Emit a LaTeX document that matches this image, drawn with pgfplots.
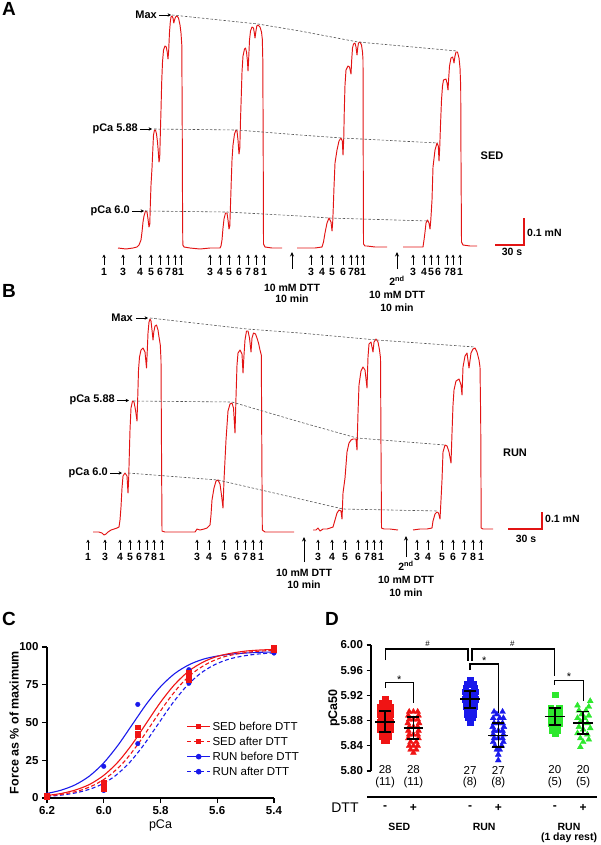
\documentclass[border=0pt]{standalone}
\usepackage{fontspec}
\setmainfont{Liberation Sans}
\usepackage{pgfplots}
\pgfplotsset{compat=1.18}
\usetikzlibrary{arrows.meta}
\definecolor{trace}{RGB}{226,20,20}
\definecolor{myred}{RGB}{240,20,20}
\definecolor{myblue}{RGB}{25,25,235}
\definecolor{mygreen}{RGB}{45,232,45}
\definecolor{dgray}{RGB}{85,85,85}
\tikzset{lbl/.style={font=\fontsize{10.5}{12}\selectfont\bfseries, inner sep=0pt},
  big/.style={font=\fontsize{19}{21}\selectfont\bfseries, inner sep=0pt, anchor=north west},
  upar/.style={line width=0.75pt, -{Stealth[length=3.4pt,width=3.4pt]}},
  longar/.style={line width=0.8pt, -{Stealth[length=4.5pt,width=4pt]}}}
\pgfplotsset{trc/.style={trace, line width=0.95pt, line join=round},
  dsh/.style={dgray, line width=0.6pt, dash pattern=on 2.5pt off 1.8pt},
  sbar/.style={trace, line width=1.1pt},
  msd/.style={black, line width=1.4pt, unbounded coords=jump, forget plot}}
\begin{document}
\begin{tikzpicture}
\useasboundingbox (0,0) rectangle (601pt,-845pt);
% ---------------- canvas axis for traces A and B (x: px, y: px from top)
\begin{axis}[at={(0pt,0pt)}, anchor=north west, scale only axis, width=601pt, height=845pt,
  xmin=0, xmax=601, ymin=0, ymax=845, y dir=reverse, hide axis, clip=false]
% ---- Panel A traces
\addplot[trc] coordinates {(118,248) (126,249) (133,248) (137,247) (139,245) (141,240) (142,232) (143,222) (144,216) (145.5,211) (147,212) (148,219) (149,227) (149.8,224) (150.3,205) (151,185) (152,168) (152.8,150) (153.5,135) (154.5,130) (155.5,130) (156.5,134) (157.5,142) (158.3,152) (159,162) (159.7,158) (160.3,135) (161,110) (161.7,82) (162.5,62) (163.5,50) (165,46) (166.3,47) (167.2,52) (168,59) (168.7,50) (169.5,32) (170.3,22) (171,17) (172,16) (173,18) (173.8,23) (174.5,20) (175.5,17) (177,16) (178.5,18) (180,25) (181,33) (181.8,45) (182.2,120) (182.5,200) (182.8,245) (184,247) (190,248) (200,249) (210,248) (220,248)
 (221,246) (222,240) (223,228) (224,219) (225.5,213) (227,213) (228,220) (229,229) (229.8,226) (230.5,205) (231.3,180) (232,160) (233,145) (234.5,134) (236,130) (237,131) (238,140) (239,154) (239.8,148) (240.5,120) (241.3,95) (242,72) (243,56) (244.5,49) (245.5,48) (246.5,52) (247.5,62) (248,71) (248.7,58) (249.5,40) (250.5,31) (252,27) (253.5,28) (254.5,34) (255,38) (255.8,32) (256.8,26) (258,25) (260,27) (261.5,32) (262.3,39) (262.8,60) (263.2,150) (263.5,244) (265,247) (272,248) (282,248)};
\addplot[trc] coordinates {(297,248) (305,248) (315,248) (322,247) (323.5,242) (325,233) (327,223) (329,218) (331,222) (332,231) (332.7,222) (333.3,207) (334,187) (335,163) (337,150) (339,141) (341,138) (342.3,141) (343,155) (343.7,140) (344.3,110) (345,85) (346,70) (348,66) (349.5,67) (351,74) (351.7,60) (352.5,48) (353.5,44) (355,43) (356,47) (357,55) (357.7,48) (358.5,43) (360,42) (361.5,45) (362.5,52) (363,60) (363.2,150) (363.5,244) (365,246) (367,246) (375,247) (387,247)};
\addplot[trc] coordinates {(403,247) (413,247) (423,247) (424,240) (425,232) (426,223) (427.5,220) (429,223) (430,229) (430.8,220) (432,200) (433,167) (435,150) (437,143) (438.3,146) (439,161) (439.7,148) (440.5,125) (441.5,100) (442.5,86) (443.5,80) (446,79) (447,83) (448,90) (448.7,78) (449.5,66) (451,58) (452.5,57) (453.5,60) (454,63) (455,56) (456,52) (457.5,52) (459,58) (460,68) (460.7,87) (461,160) (461.5,242) (463,245) (470,246) (477,246)};
% dashed guides A
\addplot[dsh] coordinates {(172,15) (258,24) (300,31) (358,42) (457,51)};
\addplot[dsh] coordinates {(154,129) (237,130) (300,135) (342,138) (438,143)};
\addplot[dsh] coordinates {(145,211) (227,212) (300,216) (329,218) (428,221)};
% scale bar A
\addplot[sbar] coordinates {(495,245) (524,245) (524,218)};
% ---- Panel B traces
\addplot[trc] coordinates {(93,532) (99,532) (102,533) (104,535) (106,534) (108,532) (111,530) (114,529) (117,528) (119,527) (120,520) (121,507) (122,488) (123,476) (125,473) (127,476) (128,493) (128.7,478) (129.3,455) (130,430) (131,408) (132.5,401) (134,402) (135.5,410) (137,421) (137.8,395) (138.5,370) (139.5,357) (141,350) (143,348) (145,352) (146.5,368) (147.3,350) (148,333) (149,322) (150,319) (151,321) (152,330) (153,340) (153.8,332) (155,326) (156.5,325) (158,330) (159,337) (160.3,345) (161,360) (161.5,450) (162,531) (165,532) (180,532) (195,532) (197,529) (200,530) (204,529) (207,528) (210,525) (211,515) (212,500) (214,488) (216,481) (218,480) (220,484) (221.5,495) (223,508) (224,480) (225,460) (226,440) (228,411) (230,404) (232,403) (233.5,408) (235,433) (236,397) (237,365) (238,353) (240,350) (242,354) (243,373) (244,355) (245,340) (246.5,331) (248,331) (249.5,338) (251,352) (252,338) (253.5,333) (255.5,334) (257,338) (258.5,343) (260,350) (261.3,355) (261.8,450) (262.3,530) (265,532) (280,532) (294,532)};
\addplot[trc] coordinates {(313,530) (316,530) (318,528) (320,531) (323,529) (327,529) (330,528) (333,527) (335,520) (337,513) (339,510) (341,511) (342,519) (343,493) (345,478) (347,452) (349,443) (351,440) (353,439) (356,439) (357,450) (358,413) (359,385) (361,371) (363,367) (365,370) (367,388) (368,357) (369,344) (371,342) (373,352) (374,342) (376,339) (378,342) (379.5,350) (380.5,358) (381,450) (381.5,528) (384,529) (390,529) (398,530)};
\addplot[trc] coordinates {(413,530) (420,529) (427,529) (432,528) (433,521) (435,514) (437,512) (438.5,513) (440,519) (441,500) (442,480) (443,452) (445,445) (447,446) (449,452) (451,463) (452,433) (453,405) (454,390) (456,381) (459,379) (461,385) (462,395) (463,367) (465,356) (467,353) (469,368) (471,353) (473,349) (475,348) (477,352) (479,360) (480,367) (480.7,420) (481.2,528) (483,529) (493,529)};
% dashed guides B
\addplot[dsh] coordinates {(150,318) (247,329) (300,333) (377,340) (475,347)};
\addplot[dsh] coordinates {(133,401) (232,402) (300,422) (357,438) (445,445)};
\addplot[dsh] coordinates {(128,473) (218,480) (300,499) (343,509) (438,511)};
% scale bar B
\addplot[sbar] coordinates {(508,529) (542,529) (542,512)};
\end{axis}

% ---------------- annotations for A and B (1 unit = 1 px)
\begin{scope}[x=1pt,y=-1pt]
\node[big] at (2,2) {A};
\node[big] at (2,284) {B};
\node[big] at (2,612) {C};
\node[big] at (325,612) {D};
% A labels
\node[lbl,font=\fontsize{11}{13}\selectfont\bfseries,anchor=east] at (157,14.5) {Max};
\draw[upar] (159,15) -- (171,15);
\node[lbl,font=\fontsize{11}{13}\selectfont\bfseries,anchor=east] at (138,128.5) {pCa 5.88};
\draw[upar] (140,129) -- (152,129);
\node[lbl,font=\fontsize{11}{13}\selectfont\bfseries,anchor=east] at (130,210.5) {pCa 6.0};
\draw[upar] (132,211) -- (144,211);
\node[lbl,font=\fontsize{11}{13}\selectfont\bfseries] at (492,156) {SED};
\node[lbl,anchor=west] at (527,233) {0.1 mN};
\node[lbl] at (512,252) {30 s};
\foreach \x/\l in {104/1,123/3,140/4,151/5,160/6,168/7,175/8,181/1,210/3,220/4,229/5,239/6,248/7,256/8,264/1,311/3,322/4,332/5,343/6,351/7,357/8,363/1,413/3,424/4,431/5,438/6,447/7,453/8,460/1}{
  \draw[upar] (\x,264.5) -- (\x,254.5);
  \node[lbl] at (\x,271.5) {\l};
}
\draw[longar] (292,269) -- (292,252);
\node[lbl] at (292,287.5) {10 mM DTT};
\node[lbl] at (292,299) {10 min};
\draw[longar] (397,269) -- (397,252);
\node[lbl] at (397,281) {2\textsuperscript{nd}};
\node[lbl] at (397,295) {10 mM DTT};
\node[lbl] at (397,307.5) {10 min};
% B labels
\node[lbl,font=\fontsize{11}{13}\selectfont\bfseries,anchor=east] at (133,317.5) {Max};
\draw[upar] (136,318) -- (148,318);
\node[lbl,font=\fontsize{11}{13}\selectfont\bfseries,anchor=east] at (115,400) {pCa 5.88};
\draw[upar] (117,400.5) -- (129,400.5);
\node[lbl,font=\fontsize{11}{13}\selectfont\bfseries,anchor=east] at (108,472.5) {pCa 6.0};
\draw[upar] (110,473) -- (122,473);
\node[lbl,font=\fontsize{11}{13}\selectfont\bfseries] at (515,453) {RUN};
\node[lbl,anchor=west] at (545,519) {0.1 mN};
\node[lbl] at (526,539) {30 s};
\foreach \x/\l in {88/1,105/3,120/4,130/5,139/6,147/7,154/8,162/1,197/3,209/4,224/5,237/6,245/7,253/8,261/1,318/3,332/4,345/5,358/6,367/7,374/8,381/1,417/3,428/4,442/5,453/6,464/7,473/8,481/1}{
  \draw[upar] (\x,549.5) -- (\x,539.5);
  \node[lbl] at (\x,557) {\l};
}
\draw[longar] (304,562) -- (304,537);
\node[lbl] at (304,573) {10 mM DTT};
\node[lbl] at (304,585) {10 min};
\draw[longar] (406,557) -- (406,536);
\node[lbl] at (406,566) {2\textsuperscript{nd}};
\node[lbl] at (406,580) {10 mM DTT};
\node[lbl] at (406,593) {10 min};
% D y label
\node[rotate=90, font=\fontsize{12.5}{14}\selectfont\bfseries, inner sep=0pt] at (334,708) {pCa50};
\end{scope}

% ---------------- Panel C
\begin{axis}[at={(47pt,-798pt)}, anchor=south west, scale only axis, width=227pt, height=151pt,
  xmin=5.4, xmax=6.2, ymin=0, ymax=100, x dir=reverse,
  axis x line*=bottom, axis y line*=left, axis line style={-, line width=1.2pt},
  tick align=outside, major tick length=5pt, every tick/.style={line width=1.2pt, black},
  xtick={5.4,5.6,5.8,6.0,6.2}, xticklabels={5.4,5.6,5.8,6.0,6.2},
  ytick={0,25,50,75,100},
  /pgf/number format/assume math mode=true,
  ticklabel style={font=\fontsize{11.5}{13}\selectfont\bfseries},
  xlabel={pCa}, ylabel={Force as \% of maximum},
  xlabel style={at={(axis description cs:0.5,-0.18)}, anchor=center, font=\fontsize{12.5}{14}\selectfont},
  ylabel style={at={(axis description cs:-0.145,0.5)}, anchor=center, font=\fontsize{12.5}{14}\selectfont\bfseries},
  clip=false,
  legend style={at={(0.615,0.52)}, anchor=north west, draw=none, fill=none,
    font=\fontsize{11.5}{12}\selectfont, row sep=1.2pt, inner sep=0pt},
  legend cell align=left,
  legend image code/.code={\draw[mark repeat=2,mark phase=2,#1] plot coordinates {(0cm,0cm) (0.4cm,0cm) (0.8cm,0cm)};}]
\addlegendimage{myred, line width=1pt, mark=square*, mark size=2.3pt, mark options={solid}}
\addlegendentry{SED before DTT}
\addlegendimage{myred, line width=1pt, dash pattern=on 4pt off 2.5pt, mark=square*, mark size=2.3pt, mark options={solid}}
\addlegendentry{SED after DTT}
\addlegendimage{myblue, line width=1pt, mark=*, mark size=2.3pt, mark options={solid}}
\addlegendentry{RUN before DTT}
\addlegendimage{myblue, line width=1pt, dash pattern=on 4pt off 2.5pt, mark=*, mark size=2.3pt, mark options={solid}}
\addlegendentry{RUN after DTT}
% fitted curves
\addplot[forget plot, myblue, line width=1.1pt, smooth] coordinates {(6.2,3.0) (6.15,5.2) (6.1,8.8) (6.05,14.6) (6.0,23.3) (5.95,34.9) (5.9,48.5) (5.85,62.1) (5.8,73.7) (5.75,82.4) (5.7,88.2) (5.65,91.9) (5.6,94.0) (5.55,95.3) (5.5,96.0) (5.45,96.5) (5.4,96.7)};
\addplot[forget plot, myblue, line width=1.1pt, smooth, dash pattern=on 4pt off 2.5pt] coordinates {(6.2,1.1) (6.16,1.7) (6.11,3.0) (6.06,5.2) (6.01,8.8) (5.96,14.6) (5.91,23.3) (5.86,34.9) (5.81,48.5) (5.76,62.1) (5.71,73.7) (5.66,82.4) (5.61,88.2) (5.56,91.9) (5.51,94.0) (5.46,95.3) (5.41,96.0) (5.4,96.1)};
\addplot[forget plot, myred, line width=1.1pt, smooth, dash pattern=on 4pt off 2.5pt] coordinates {(6.2,1.4) (6.18,1.7) (6.13,3.0) (6.08,5.2) (6.03,9.0) (5.98,14.9) (5.93,23.6) (5.88,35.5) (5.83,49.3) (5.78,63.0) (5.73,74.9) (5.68,83.6) (5.63,89.5) (5.58,93.3) (5.53,95.4) (5.48,96.8) (5.43,97.5) (5.4,97.8)};
\addplot[forget plot, myred, line width=1.1pt, smooth] coordinates {(6.2,1.7) (6.15,3.0) (6.1,5.3) (6.05,9.0) (6.0,15.0) (5.95,23.8) (5.9,35.6) (5.85,49.5) (5.8,63.4) (5.75,75.2) (5.7,84.1) (5.65,90.0) (5.6,93.8) (5.55,95.9) (5.5,97.3) (5.45,98.0) (5.4,98.4)};
% data points
\addplot[forget plot, only marks, myblue, mark=*, mark size=2.3pt] coordinates {(6.2,2) (6.0,21) (5.88,62) (5.7,85) (5.4,97.5)};
\addplot[forget plot, only marks, myblue, mark=*, mark size=2.3pt] coordinates {(6.2,0.5) (6.0,5) (5.88,36) (5.7,76) (5.4,96)};
\addplot[forget plot, only marks, myred, mark=square*, mark size=2.3pt] coordinates {(6.2,0.5) (6.0,6) (5.88,42) (5.7,78) (5.4,98)};
\addplot[forget plot, only marks, myred, mark=square*, mark size=2.3pt] coordinates {(6.2,1.5) (6.0,10) (6.0,8) (5.88,47) (5.88,43) (5.7,83) (5.7,80) (5.4,99.5)};
\end{axis}

% ---------------- Panel D
\begin{axis}[at={(371pt,-771pt)}, anchor=south west, scale only axis, width=226.3pt, height=126pt,
  xmin=0.5, xmax=8.5, ymin=5.80, ymax=6.00,
  axis x line=none, axis y line*=left, axis line style={-, line width=1.2pt},
  tick align=outside, major tick length=4.5pt, every tick/.style={line width=1.2pt, black},
  ytick={5.80,5.84,5.88,5.92,5.96,6.00}, yticklabels={5.80,5.84,5.88,5.92,5.96,6.00},
  ticklabel style={font=\fontsize{11.5}{13}\selectfont\bfseries},
  clip=false, clip marker paths=true]
% scatter
\addplot[only marks, myred, mark=square*, mark size=2.9pt] coordinates {(1,5.914) (0.9,5.908) (1.1,5.908) (0.82,5.902) (1,5.902) (1.18,5.902) (0.82,5.896) (1.18,5.896) (0.82,5.890) (1,5.890) (1.18,5.890) (0.85,5.884) (1.15,5.884) (0.82,5.878) (1,5.878) (1.18,5.878) (0.85,5.872) (1.15,5.872) (0.82,5.866) (1,5.866) (1.18,5.866) (0.88,5.860) (1.12,5.860) (0.9,5.855) (1.1,5.855) (1,5.852) (0.95,5.849) (1.05,5.849)};
\addplot[only marks, myred, mark=triangle*, mark size=3.4pt] coordinates {(1.85,5.894) (2,5.894) (2.15,5.894) (1.82,5.888) (2.18,5.888) (1.85,5.882) (2,5.882) (2.15,5.882) (1.8,5.876) (2.2,5.876) (1.85,5.870) (2,5.870) (2.15,5.870) (1.82,5.864) (2.18,5.864) (1.85,5.858) (2,5.858) (2.15,5.858) (1.82,5.852) (2.18,5.852) (1.9,5.846) (2.1,5.846) (1.85,5.840) (2.15,5.840) (2,5.840) (1.9,5.834) (2.1,5.834) (2,5.829)};
\addplot[only marks, myblue, mark=square*, mark size=2.9pt] coordinates {(4,5.944) (3.9,5.938) (4.1,5.938) (3.85,5.932) (4.15,5.932) (3.82,5.926) (4,5.926) (4.18,5.926) (3.85,5.920) (4.15,5.920) (3.82,5.914) (4,5.914) (4.18,5.914) (3.85,5.908) (4.15,5.908) (3.85,5.902) (4,5.902) (4.15,5.902) (3.88,5.896) (4.12,5.896) (3.9,5.890) (4.1,5.890) (4,5.890) (3.92,5.885) (4.08,5.885) (4,5.880) (4,5.878)};
\addplot[only marks, myblue, mark=triangle*, mark size=3.4pt] coordinates {(4.85,5.894) (5.15,5.894) (4.95,5.890) (4.82,5.884) (5.05,5.884) (5.18,5.884) (4.85,5.876) (5,5.876) (5.15,5.876) (4.8,5.870) (5.2,5.870) (4.85,5.864) (5,5.864) (5.15,5.864) (4.82,5.858) (5.18,5.858) (4.85,5.852) (5,5.852) (5.15,5.852) (4.82,5.846) (5.18,5.846) (4.88,5.840) (5.12,5.840) (4.95,5.834) (5.05,5.834) (5,5.826) (5,5.817)};
\addplot[only marks, mygreen, mark=square*, mark size=2.9pt] coordinates {(7,5.921) (6.85,5.900) (7.15,5.900) (6.85,5.894) (7,5.894) (7.15,5.894) (6.85,5.888) (7.15,5.888) (6.85,5.882) (7,5.882) (7.15,5.882) (6.85,5.876) (7.15,5.876) (6.9,5.870) (7.1,5.870) (7,5.870) (6.9,5.865) (7.1,5.865) (7,5.862) (7,5.860)};
\addplot[only marks, mygreen, mark=triangle*, mark size=3.4pt] coordinates {(8.25,5.911) (7.8,5.904) (8.2,5.902) (7.85,5.896) (8.1,5.896) (7.95,5.890) (8.2,5.888) (7.8,5.884) (8.05,5.884) (7.9,5.878) (8.15,5.876) (7.85,5.870) (8.25,5.868) (8,5.866) (7.8,5.860) (8.15,5.858) (7.9,5.852) (8.2,5.850) (8,5.846) (7.9,5.838)};
% mean and SD (mean line, SD whisker with caps)
\addplot[msd] coordinates {(0.65,5.878) (1.35,5.878) (nan,nan) (0.79,5.862) (1.21,5.862) (nan,nan) (0.79,5.895) (1.21,5.895) (nan,nan) (1,5.862) (1,5.895)};
\addplot[msd] coordinates {(1.65,5.868) (2.35,5.868) (nan,nan) (1.79,5.851) (2.21,5.851) (nan,nan) (1.79,5.886) (2.21,5.886) (nan,nan) (2,5.851) (2,5.886)};
\addplot[msd] coordinates {(3.65,5.914) (4.35,5.914) (nan,nan) (3.79,5.900) (4.21,5.900) (nan,nan) (3.79,5.927) (4.21,5.927) (nan,nan) (4,5.900) (4,5.927)};
\addplot[msd] coordinates {(4.65,5.856) (5.35,5.856) (nan,nan) (4.79,5.838) (5.21,5.838) (nan,nan) (4.79,5.876) (5.21,5.876) (nan,nan) (5,5.838) (5,5.876)};
\addplot[msd] coordinates {(6.65,5.887) (7.35,5.887) (nan,nan) (6.79,5.873) (7.21,5.873) (nan,nan) (6.79,5.900) (7.21,5.900) (nan,nan) (7,5.873) (7,5.900)};
\addplot[msd] coordinates {(7.65,5.876) (8.35,5.876) (nan,nan) (7.79,5.859) (8.21,5.859) (nan,nan) (7.79,5.894) (8.21,5.894) (nan,nan) (8,5.859) (8,5.894)};
% brackets
\draw[line width=1.2pt] (axis cs:1,5.976) -- (axis cs:1,5.9937) -- (axis cs:3.93,5.9937) -- (axis cs:3.93,5.975);
\draw[line width=1.2pt] (axis cs:4.07,5.975) -- (axis cs:4.07,5.9937) -- (axis cs:7,5.9937) -- (axis cs:7,5.951);
\draw[line width=1.2pt] (axis cs:1,5.932) -- (axis cs:1,5.940) -- (axis cs:2,5.940) -- (axis cs:2,5.908);
\draw[line width=1.2pt] (axis cs:4,5.960) -- (axis cs:4,5.970) -- (axis cs:5,5.970) -- (axis cs:5,5.892);
\draw[line width=1.2pt] (axis cs:7,5.937) -- (axis cs:7,5.944) -- (axis cs:8,5.944) -- (axis cs:8,5.911);
\node[font=\fontsize{8}{9}\selectfont, inner sep=0pt] at (axis cs:2.5,6.0025) {\#};
\node[font=\fontsize{8}{9}\selectfont, inner sep=0pt] at (axis cs:5.5,6.0025) {\#};
\node[font=\fontsize{11}{12}\selectfont, inner sep=0pt] at (axis cs:1.5,5.945) {*};
\node[font=\fontsize{11}{12}\selectfont, inner sep=0pt] at (axis cs:4.5,5.975) {*};
\node[font=\fontsize{11}{12}\selectfont, inner sep=0pt] at (axis cs:7.5,5.949) {*};
% n labels
\foreach \xx/\nn/\mm in {1/28/11,2/28/11,4/27/8,5/27/8,7/20/5,8/20/5}{
  \edef\tmp{\noexpand\node[font=\noexpand\fontsize{11.5}{12}\noexpand\selectfont, inner sep=0pt] at (axis cs:\xx,5.8016) {\nn};
    \noexpand\node[font=\noexpand\fontsize{11.5}{12}\noexpand\selectfont, inner sep=0pt] at (axis cs:\xx,5.7825) {(\mm)};}
  \tmp
}
\draw[line width=1.2pt] (axis cs:0.36,5.7587) -- (axis cs:8.5,5.7587);
\node[font=\fontsize{14}{16}\selectfont, inner sep=0pt] at (axis cs:-0.42,5.7413) {DTT};
\foreach \xx in {1,4,7}{
  \edef\tmp{\noexpand\node[font=\noexpand\fontsize{12}{14}\noexpand\selectfont\noexpand\bfseries, inner sep=0pt] at (axis cs:\xx,5.7413) {-};}
  \tmp
}
\foreach \xx in {2,5,8}{
  \edef\tmp{\noexpand\node[font=\noexpand\fontsize{12}{14}\noexpand\selectfont\noexpand\bfseries, inner sep=0pt] at (axis cs:\xx,5.7413) {+};}
  \tmp
}
\node[font=\fontsize{10.5}{12}\selectfont\bfseries, inner sep=0pt] at (axis cs:1.5,5.7111) {SED};
\node[font=\fontsize{10.5}{12}\selectfont\bfseries, inner sep=0pt] at (axis cs:4.5,5.7111) {RUN};
\node[font=\fontsize{10.5}{12}\selectfont\bfseries, inner sep=0pt] at (axis cs:7.5,5.7111) {RUN};
\node[font=\fontsize{10.5}{12}\selectfont\bfseries, inner sep=0pt] at (axis cs:7.5,5.6937) {(1 day rest)};
\end{axis}
\end{tikzpicture}
\end{document}
